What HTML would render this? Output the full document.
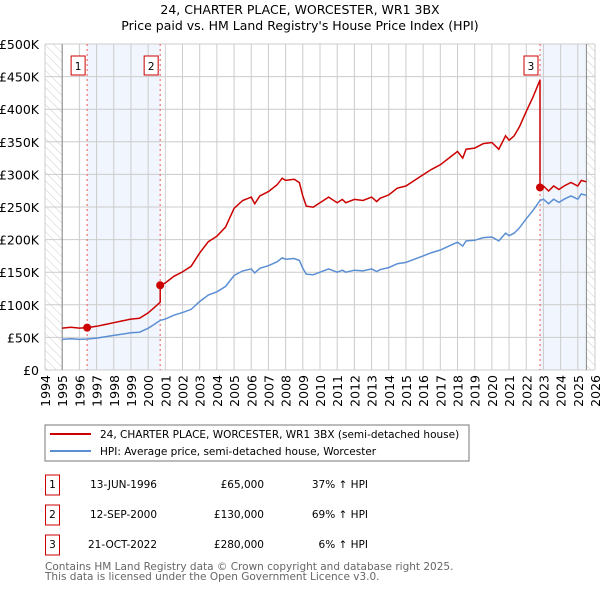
<!DOCTYPE html>
<html><head><meta charset="utf-8"><style>
body{margin:0;background:#fff;font-family:"DejaVu Sans","Liberation Sans",sans-serif;}
svg text{font-family:"DejaVu Sans","Liberation Sans",sans-serif;}
</style></head><body>
<svg id="c" width="600" height="590" xmlns="http://www.w3.org/2000/svg">
<defs><pattern id="hatch" width="6" height="6" patternUnits="userSpaceOnUse" patternTransform="rotate(-45)"><line x1="0" y1="0" x2="0" y2="6" stroke="#ccc" stroke-width="1"/></pattern></defs>
<text x="300" y="14" text-anchor="middle" font-size="12.5">24, CHARTER PLACE, WORCESTER, WR1 3BX</text>
<text x="300" y="30" text-anchor="middle" font-size="12.5">Price paid vs. HM Land Registry's House Price Index (HPI)</text>
<g id="plot"></g>
<rect x="45" y="425" width="424" height="36" fill="#fff" stroke="#777"/>
<line x1="50" y1="434" x2="91" y2="434" stroke="#cc0000" stroke-width="2"/>
<text x="100" y="438" font-size="10.5">24, CHARTER PLACE, WORCESTER, WR1 3BX (semi-detached house)</text>
<line x1="50" y1="451" x2="91" y2="451" stroke="#5b8fd4" stroke-width="2"/>
<text x="100" y="455" font-size="10.5">HPI: Average price, semi-detached house, Worcester</text>
<g id="table" font-size="10.5"></g>
<text x="45" y="570" font-size="10.5" fill="#666">Contains HM Land Registry data © Crown copyright and database right 2025.</text>
<text x="45" y="580" font-size="10.5" fill="#666">This data is licensed under the Open Government Licence v3.0.</text>
</svg>
<script>
const hpiYears=[1995,1995.5,1996,1996.45,1997,1997.5,1998,1998.5,1999,1999.5,2000,2000.3,2000.7,2001,2001.5,2002,2002.5,2003,2003.5,2004,2004.5,2005,2005.5,2006,2006.2,2006.5,2007,2007.5,2007.8,2008,2008.5,2008.8,2009,2009.2,2009.6,2010,2010.5,2011,2011.3,2011.5,2012,2012.5,2013,2013.3,2013.5,2014,2014.5,2015,2015.5,2016,2016.5,2017,2017.5,2018,2018.3,2018.5,2019,2019.5,2020,2020.4,2020.8,2021,2021.3,2021.6,2022,2022.4,2022.8,2023,2023.3,2023.6,2023.9,2024.2,2024.6,2025,2025.2,2025.5];
const hpiValues=[47,48,47,47.5,49,51,53,55,57,58,64,69,76,78,84,88,93,105,115,120,128,145,152,155,149,156,160,166,172,170,171,168,156,147,146,150,155,150,153,150,153,152,155,151,154,157,163,165,170,175,180,184,190,196,190,198,199,203,204,198,210,206,210,218,232,245,260,262,255,262,257,262,267,262,270,268];
const saleYears=[1996.45,2000.70,2022.80];
const salePrices=[65,130,280];
const saleLabels=["1","2","3"];
const saleDates=["13-JUN-1996","12-SEP-2000","21-OCT-2022"];
const salePriceText=["£65,000","£130,000","£280,000"];
const saleHpiText=["37% ↑ HPI","69% ↑ HPI","6% ↑ HPI"];
const yTicks=[0,50,100,150,200,250,300,350,400,450,500];
const yTickLabels=["£0","£50K","£100K","£150K","£200K","£250K","£300K","£350K","£400K","£450K","£500K"];
const xTicks=[1994,1995,1996,1997,1998,1999,2000,2001,2002,2003,2004,2005,2006,2007,2008,2009,2010,2011,2012,2013,2014,2015,2016,2017,2018,2019,2020,2021,2022,2023,2024,2025,2026];
const NS="http://www.w3.org/2000/svg";
const X0=45,X1=595,Y0=370,Y1=44;
const xs=y=>X0+(y-1994)/(2026-1994)*(X1-X0);
const ys=v=>Y0-v/500*(Y0-Y1);
const plot=document.getElementById('plot');
function mk(t,a,p){const e=document.createElementNS(NS,t);for(const k in a)e.setAttribute(k,a[k]);(p||plot).appendChild(e);return e;}
let e;
e=mk('rect',{x:xs(saleYears[0]),y:Y1,width:xs(saleYears[1])-xs(saleYears[0]),height:Y0-Y1,fill:'#eef3fc',opacity:0.8});


e=mk('rect',{x:xs(saleYears[2]),y:Y1,width:xs(2025.5)-xs(saleYears[2]),height:Y0-Y1,fill:'#eef3fc',opacity:0.8});


e=mk('rect',{x:X0,y:Y1,width:xs(1995)-X0,height:Y0-Y1,fill:'url(#hatch)'});


e=mk('rect',{x:xs(2025.5),y:Y1,width:X1-xs(2025.5),height:Y0-Y1,fill:'url(#hatch)'});


yTicks.forEach((v,i)=>{
 e=mk('line',{x1:X0,x2:X1,y1:ys(v),y2:ys(v),stroke:'#ccc','stroke-width':1});
 
 
 e=mk('text',{x:39,y:ys(v)+5,'text-anchor':'end','font-size':'12.5'});e.textContent=yTickLabels[i];
 
 
});
xTicks.forEach(y=>{
 e=mk('line',{x1:xs(y),x2:xs(y),y1:Y1,y2:Y0,stroke:'#ccc','stroke-width':1});
 
 
 e=mk('text',{x:0,y:0,'text-anchor':'end','font-size':'12.5',transform:`translate(${xs(y)+5},375) rotate(-90)`});e.textContent=y;
 
 
});
e=mk('line',{x1:xs(1995),x2:xs(1995),y1:Y1,y2:Y0,stroke:'#888'});


e=mk('line',{x1:xs(2025.5),x2:xs(2025.5),y1:Y1,y2:Y0,stroke:'#888'});


function hpiAt(t){for(let i=1;i<hpiYears.length;i++){if(t<=hpiYears[i]){const f=(t-hpiYears[i-1])/(hpiYears[i]-hpiYears[i-1]);return hpiValues[i-1]+f*(hpiValues[i]-hpiValues[i-1]);}}return hpiValues[hpiValues.length-1];}
saleYears.forEach((s,i)=>{
 e=mk('line',{x1:xs(s),x2:xs(s),y1:Y1,y2:Y0,stroke:'#e55','stroke-dasharray':'2,3','stroke-width':1});
 
 
 const g=mk('g',{});
 
 
 mk('rect',{x:xs(s)-16,y:56,width:14,height:19,fill:'#fff',stroke:'#c00'},g);
 const t=mk('text',{x:xs(s)-9,y:70,'text-anchor':'middle','font-size':'10.5'},g);t.textContent=saleLabels[i];
});
e=mk('path',{d:hpiYears.map((y,i)=>(i?'L':'M')+xs(y).toFixed(1)+','+ys(hpiValues[i]).toFixed(1)).join(''),fill:'none',stroke:'#5b8fd4','stroke-width':1.5});


let d='';
hpiYears.forEach((y,i)=>{
 let k=0;for(let j=0;j<saleYears.length;j++)if(y>=saleYears[j])k=j;
 const v=hpiValues[i]*salePrices[k]/hpiAt(saleYears[k]);
 saleYears.forEach((s,j)=>{if(j>0&&i>0&&y>=s&&hpiYears[i-1]<s){const pv=hpiAt(s)*salePrices[j-1]/hpiAt(saleYears[j-1]);d+='L'+xs(s).toFixed(1)+','+ys(pv).toFixed(1)+'L'+xs(s).toFixed(1)+','+ys(salePrices[j]).toFixed(1);}});
 d+=(d?'L':'M')+xs(y).toFixed(1)+','+ys(v).toFixed(1);
});
e=mk('path',{d:d,fill:'none',stroke:'#cc0000','stroke-width':1.5});


saleYears.forEach((s,i)=>{
 e=mk('circle',{cx:xs(s),cy:ys(salePrices[i]),r:4,fill:'#cc0000'});
 
 
});
const tb=document.getElementById('table');
saleLabels.forEach((l,i)=>{
 const y=485+i*30;
 const g=mk('g',{},tb);
 
 
 mk('rect',{x:45.5,y:y-10,width:14,height:20,fill:'#fff',stroke:'#c00'},g);
 let t=mk('text',{x:52.5,y:y+3,'text-anchor':'middle'},g);t.textContent=l;
 t=mk('text',{x:157,y:y+3,'text-anchor':'end'},g);t.textContent=saleDates[i];
 t=mk('text',{x:264,y:y+3,'text-anchor':'end'},g);t.textContent=salePriceText[i];
 t=mk('text',{x:368,y:y+3,'text-anchor':'end'},g);t.textContent=saleHpiText[i];
});
</script>
</body></html>
